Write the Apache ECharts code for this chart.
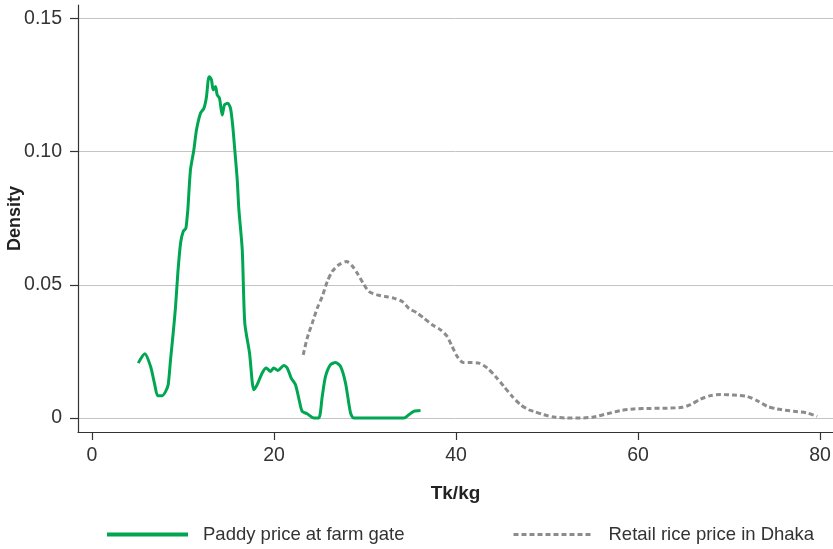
<!DOCTYPE html>
<html>
<head>
<meta charset="utf-8">
<title>Paddy and retail rice price densities</title>
<script src="https://cdn.jsdelivr.net/npm/echarts@6/dist/echarts.min.js"></script>
<style>
  html, body { margin: 0; padding: 0; background: #ffffff; }
  #chart { width: 833px; height: 549px; }
</style>
</head>
<body>
<div id="chart"></div>
<script>
// Kernel density estimates of prices (Tk/kg)
const paddyPrice = [5.08, 5.80, 6.43, 6.87, 7.23, 7.71, 8.08, 8.37, 8.63, 8.92, 9.18, 9.43, 9.73, 10.02, 10.31, 10.46, 10.53, 10.82, 11.19, 11.48, 11.92, 12.29, 12.58, 12.77, 12.91, 13.13, 13.32, 13.57, 13.76, 14.01, 14.31, 14.56, 14.92, 15.22, 15.47, 15.69, 15.96, 16.13, 16.51, 16.79, 17.31, 17.78, 18.15, 18.70, 19.14, 19.62, 19.98, 20.42, 21.08, 21.45, 21.89, 22.36, 22.84, 23.10, 23.65, 24.37, 24.92, 25.30, 25.66, 26.21, 26.76, 27.31, 27.86, 28.41, 28.77, 34.26, 34.81, 35.36, 36.10];
const paddyDensity = [0.0206, 0.0241, 0.0194, 0.0129, 0.0084, 0.0084, 0.0099, 0.0125, 0.0219, 0.0319, 0.0418, 0.0544, 0.0656, 0.0700, 0.0712, 0.0756, 0.0781, 0.0931, 0.1006, 0.1081, 0.1144, 0.1162, 0.1206, 0.1269, 0.1281, 0.1269, 0.1231, 0.1244, 0.1212, 0.1200, 0.1137, 0.1175, 0.1181, 0.1162, 0.1094, 0.1006, 0.0894, 0.0787, 0.0631, 0.0356, 0.0244, 0.0106, 0.0125, 0.0169, 0.0188, 0.0175, 0.0188, 0.0178, 0.0197, 0.0188, 0.0150, 0.0125, 0.0056, 0.0025, 0.0016, 0.0000, 0.0000, 0.0081, 0.0156, 0.0200, 0.0208, 0.0194, 0.0131, 0.0019, 0.0000, 0.0000, 0.0012, 0.0025, 0.0028];

const retailPrice = [23.21, 23.65, 24.20, 24.75, 25.30, 25.85, 26.40, 27.12, 27.97, 28.59, 29.14, 29.80, 30.42, 31.34, 32.25, 33.16, 34.09, 34.81, 35.74, 36.46, 37.38, 38.30, 39.03, 39.58, 40.13, 40.79, 41.59, 42.51, 43.43, 44.34, 45.25, 46.18, 47.09, 48.00, 48.55, 49.65, 50.75, 52.22, 53.68, 55.14, 56.62, 58.08, 59.54, 61.37, 63.21, 64.86, 65.77, 66.87, 67.97, 69.07, 70.53, 72.00, 73.27, 74.20, 75.30, 77.12, 78.59, 79.69];
const retailDensity = [0.0237, 0.0300, 0.0356, 0.0412, 0.0456, 0.0512, 0.0550, 0.0575, 0.0587, 0.0571, 0.0544, 0.0506, 0.0475, 0.0462, 0.0456, 0.0450, 0.0437, 0.0412, 0.0394, 0.0375, 0.0350, 0.0331, 0.0306, 0.0268, 0.0231, 0.0208, 0.0208, 0.0206, 0.0188, 0.0156, 0.0119, 0.0081, 0.0050, 0.0031, 0.0025, 0.0012, 0.0004, 0.0000, 0.0000, 0.0004, 0.0016, 0.0028, 0.0034, 0.0036, 0.0037, 0.0040, 0.0050, 0.0071, 0.0084, 0.0088, 0.0086, 0.0081, 0.0062, 0.0044, 0.0034, 0.0025, 0.0019, 0.0006];

const xTicks = [0, 20, 40, 60, 80];
const yTicks = [0, 0.05, 0.10, 0.15];

const seriesNames = ['Paddy price at farm gate', 'Retail rice price in Dhaka'];
const xTitle = 'Tk/kg';
const yTitle = 'Density';

const GREEN = '#00a651';
const GREY = '#8c8c8c';
const INK = '#333333';
const FONT = '"Liberation Sans", Arial, Helvetica, sans-serif';

const pairs = (xs, ys) => xs.map((x, i) => [x, ys[i]]);

const chart = echarts.init(document.getElementById('chart'), null, { renderer: 'canvas' });

chart.setOption({
  animation: false,
  backgroundColor: '#ffffff',
  textStyle: { fontFamily: FONT },
  grid: { left: 78, right: 0, top: 5, bottom: 117, containLabel: false, outerBoundsMode: 'none' },
  xAxis: {
    type: 'value',
    min: -1.54,
    max: 81.43,
    name: xTitle,
    nameLocation: 'middle',
    nameGap: 52,
    nameMoveOverlap: false,
    nameTextStyle: { fontFamily: FONT, fontSize: 19, fontWeight: 'bold', color: '#222' },
    axisLine: { show: true, onZero: false, lineStyle: { color: INK, width: 1.2 } },
    axisTick: { show: true, length: 8, customValues: xTicks, lineStyle: { color: INK, width: 1.2 } },
    axisLabel: { customValues: xTicks, margin: 14, fontSize: 19.5, color: INK, fontFamily: FONT },
    splitLine: { show: false }
  },
  yAxis: {
    type: 'value',
    min: -0.00525,
    max: 0.155,
    name: yTitle,
    nameLocation: 'middle',
    nameRotate: 90,
    nameGap: 54,
    nameMoveOverlap: false,
    nameTextStyle: { fontFamily: FONT, fontSize: 18, fontWeight: 'bold', color: '#222' },
    axisLine: { show: true, onZero: false, lineStyle: { color: INK, width: 1.2 } },
    axisTick: { show: true, length: 8, customValues: yTicks, lineStyle: { color: INK, width: 1.2 } },
    axisLabel: {
      customValues: yTicks,
      margin: 16,
      fontSize: 19.5,
      color: INK,
      fontFamily: FONT,
      formatter: v => (v === 0 ? '0' : v.toFixed(2))
    },
    splitLine: { show: true, lineStyle: { color: '#c4c4c4', width: 1 } }
  },
  legend: [
    {
      data: [seriesNames[0]],
      left: 107,
      top: 525,
      padding: 0,
      itemWidth: 81,
      itemHeight: 16,
      icon: 'path://M0,6 L81,6 L81,10 L0,10 Z',
      itemStyle: { color: GREEN },
      textStyle: { fontSize: 18.5, color: INK, fontFamily: FONT, padding: [0, 0, 0, 10] }
    },
    {
      data: [seriesNames[1]],
      left: 512,
      top: 525,
      padding: 0,
      itemWidth: 80,
      itemHeight: 16,
      lineStyle: { width: 3, type: [5, 3], color: GREY },
      itemStyle: { opacity: 0 },
      textStyle: { fontSize: 18.5, color: INK, fontFamily: FONT, padding: [0, 0, 0, 10] }
    }
  ],
  series: [
    {
      name: seriesNames[0],
      type: 'line',
      data: pairs(paddyPrice, paddyDensity),
      showSymbol: false,
      symbol: 'none',
      smooth: 0.25,
      lineStyle: { color: GREEN, width: 3 },
      itemStyle: { color: GREEN },
      z: 3
    },
    {
      name: seriesNames[1],
      type: 'line',
      data: pairs(retailPrice, retailDensity),
      showSymbol: false,
      symbol: 'none',
      smooth: 0.25,
      lineStyle: { color: GREY, width: 3, type: [5, 3] },
      itemStyle: { color: GREY },
      z: 2
    }
  ]
});
</script>
</body>
</html>
